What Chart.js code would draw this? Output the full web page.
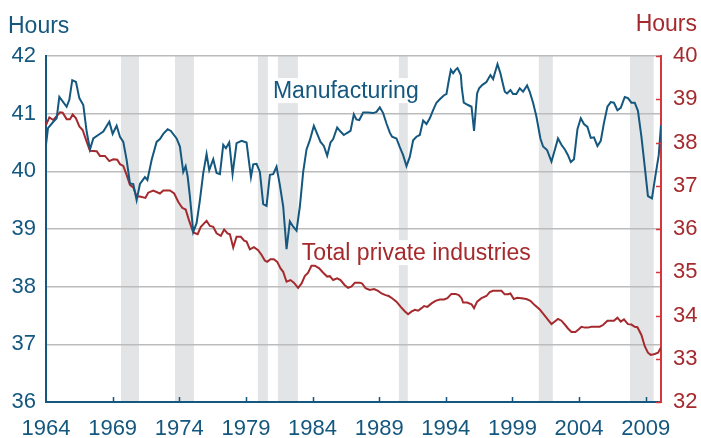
<!DOCTYPE html>
<html>
<head>
<meta charset="utf-8">
<style>
  html, body { margin: 0; padding: 0; background: #fff; }
  #wrap { width: 701px; height: 438px; position: relative; }
</style>
</head>
<body>
<div id="wrap"><canvas id="chart" width="701" height="438"></canvas></div>
<script src="https://cdn.jsdelivr.net/npm/chart.js@4.4.1/dist/chart.umd.min.js"></script>
<script>
/* ---------- data ---------- */
const mfgYears = [
  1964.00, 1964.15, 1964.55, 1964.80, 1965.00, 1965.55, 1965.75, 1965.97, 1966.25, 1966.50,
  1966.80, 1967.05, 1967.30, 1967.55, 1967.92, 1968.30, 1968.75, 1969.00, 1969.30, 1969.55,
  1969.80, 1970.05, 1970.30, 1970.55, 1970.80, 1971.05, 1971.42, 1971.61, 1971.93, 1972.30,
  1972.55, 1972.80, 1973.13, 1973.37, 1973.80, 1974.05, 1974.30, 1974.48, 1974.63, 1974.80,
  1975.05, 1975.30, 1975.55, 1975.80, 1976.05, 1976.25, 1976.55, 1976.80, 1977.05, 1977.30,
  1977.50, 1977.75, 1978.00, 1978.30, 1978.68, 1979.05, 1979.38, 1979.55, 1979.80, 1980.05,
  1980.30, 1980.55, 1980.80, 1981.05, 1981.30, 1981.55, 1981.80, 1982.05, 1982.30, 1982.55,
  1982.80, 1983.05, 1983.30, 1983.55, 1983.80, 1984.10, 1984.35, 1984.60, 1984.85, 1985.10,
  1985.35, 1985.55, 1985.85, 1986.10, 1986.35, 1986.55, 1986.85, 1987.10, 1987.29, 1987.51,
  1987.80, 1988.17, 1988.55, 1988.80, 1989.05, 1989.30, 1989.55, 1989.80, 1989.97, 1990.30,
  1990.55, 1990.80, 1991.05, 1991.30, 1991.55, 1991.80, 1992.05, 1992.30, 1992.55, 1992.80,
  1993.05, 1993.30, 1993.55, 1993.87, 1994.05, 1994.23, 1994.38, 1994.55, 1994.73, 1994.88,
  1995.13, 1995.20, 1995.35, 1995.67, 1995.93, 1996.12, 1996.35, 1996.50, 1996.75, 1997.05,
  1997.35, 1997.55, 1997.88, 1998.10, 1998.30, 1998.43, 1998.60, 1998.85, 1999.05, 1999.30,
  1999.55, 1999.80, 2000.10, 2000.30, 2000.55, 2000.80, 2001.10, 2001.30, 2001.60, 2001.93,
  2002.18, 2002.42, 2002.68, 2002.96, 2003.17, 2003.38, 2003.62, 2003.88, 2004.13, 2004.37,
  2004.63, 2004.88, 2005.12, 2005.38, 2005.63, 2005.87, 2006.13, 2006.38, 2006.62, 2006.88,
  2007.13, 2007.43, 2007.67, 2007.93, 2008.18, 2008.42, 2008.68, 2008.93, 2009.17, 2009.47,
  2009.73, 2009.98, 2010.15
];
const mfgHours = [
  40.46, 40.75, 40.86, 40.92, 41.29, 41.12, 41.24, 41.58, 41.55, 41.27,
  41.15, 40.69, 40.38, 40.57, 40.63, 40.69, 40.86, 40.65, 40.79, 40.60,
  40.51, 40.20, 39.79, 39.78, 39.50, 39.78, 39.90, 39.85, 40.20, 40.51,
  40.56, 40.65, 40.73, 40.70, 40.57, 40.43, 39.99, 40.09, 39.91, 39.56,
  38.95, 39.10, 39.50, 39.97, 40.30, 40.02, 40.21, 39.97, 39.95, 40.46,
  40.40, 40.50, 39.95, 40.49, 40.53, 40.50, 39.90, 40.12, 40.13, 39.99,
  39.43, 39.40, 39.94, 39.95, 40.08, 39.76, 39.39, 38.65, 39.13, 39.04,
  38.97, 39.39, 39.99, 40.38, 40.54, 40.79, 40.65, 40.51, 40.44, 40.27,
  40.50, 40.56, 40.76, 40.69, 40.63, 40.66, 40.70, 40.99, 40.90, 40.89,
  41.02, 41.02, 41.01, 41.03, 41.11, 41.01, 40.83, 40.67, 40.60, 40.57,
  40.42, 40.28, 40.09, 40.25, 40.54, 40.60, 40.63, 40.88, 40.82, 40.92,
  41.06, 41.19, 41.25, 41.32, 41.34, 41.58, 41.76, 41.70, 41.76, 41.79,
  41.67, 41.45, 41.19, 41.15, 41.12, 40.70, 41.35, 41.44, 41.50, 41.55,
  41.67, 41.60, 41.86, 41.70, 41.50, 41.38, 41.35, 41.41, 41.34, 41.34,
  41.44, 41.38, 41.49, 41.38, 41.19, 40.95, 40.57, 40.43, 40.37, 40.17,
  40.37, 40.57, 40.46, 40.37, 40.28, 40.16, 40.21, 40.73, 40.92, 40.82,
  40.77, 40.58, 40.59, 40.44, 40.53, 40.84, 41.12, 41.20, 41.19, 41.06,
  41.10, 41.29, 41.27, 41.19, 41.19, 41.05, 40.60, 40.08, 39.57, 39.53,
  39.92, 40.28, 40.80
];

const totYears = [
  1964.00, 1964.25, 1964.55, 1965.05, 1965.25, 1965.55, 1965.80, 1966.00, 1966.25, 1966.50,
  1966.75, 1967.05, 1967.30, 1967.80, 1968.05, 1968.42, 1968.75, 1969.05, 1969.35, 1969.55,
  1969.80, 1970.05, 1970.30, 1970.55, 1970.80, 1971.05, 1971.46, 1971.67, 1972.05, 1972.55,
  1972.80, 1973.30, 1973.62, 1973.92, 1974.22, 1974.48, 1974.72, 1975.05, 1975.38, 1975.62,
  1976.05, 1976.30, 1976.55, 1976.80, 1977.12, 1977.37, 1977.62, 1977.80, 1978.05, 1978.30,
  1978.62, 1978.87, 1979.05, 1979.30, 1979.60, 1979.92, 1980.18, 1980.42, 1980.60, 1980.85,
  1981.10, 1981.35, 1981.60, 1981.80, 1982.05, 1982.35, 1982.60, 1982.92, 1983.18, 1983.42,
  1983.67, 1983.92, 1984.18, 1984.50, 1984.80, 1985.10, 1985.30, 1985.55, 1985.85, 1986.10,
  1986.42, 1986.67, 1986.93, 1987.18, 1987.55, 1987.72, 1987.98, 1988.30, 1988.62, 1988.92,
  1989.18, 1989.48, 1989.72, 1989.97, 1990.30, 1990.62, 1990.92, 1991.17, 1991.42, 1991.68,
  1991.92, 1992.18, 1992.37, 1992.62, 1992.93, 1993.23, 1993.55, 1993.87, 1994.12, 1994.42,
  1994.73, 1994.98, 1995.18, 1995.30, 1995.60, 1995.93, 1996.12, 1996.35, 1996.68, 1997.05,
  1997.30, 1997.55, 1997.92, 1998.18, 1998.42, 1998.67, 1998.85, 1999.10, 1999.35, 1999.68,
  2000.05, 2000.35, 2000.67, 2001.05, 2001.50, 2001.93, 2002.18, 2002.42, 2002.68, 2002.96,
  2003.17, 2003.43, 2003.73, 2003.98, 2004.18, 2004.43, 2004.67, 2004.93, 2005.55, 2005.80,
  2006.13, 2006.62, 2006.88, 2007.13, 2007.37, 2007.67, 2007.93, 2008.18, 2008.38, 2008.68,
  2008.93, 2009.17, 2009.38, 2009.68, 2009.93, 2010.15
];
const totHours = [
  38.40, 38.58, 38.52, 38.70, 38.69, 38.54, 38.54, 38.65, 38.56, 38.37,
  38.29, 38.02, 37.81, 37.80, 37.69, 37.69, 37.57, 37.61, 37.60, 37.50,
  37.46, 37.25, 37.02, 36.96, 36.75, 36.75, 36.72, 36.84, 36.89, 36.82,
  36.89, 36.89, 36.82, 36.63, 36.49, 36.45, 36.21, 35.92, 35.88, 36.05,
  36.19, 36.07, 36.05, 35.90, 35.84, 35.99, 35.90, 35.88, 35.57, 35.82,
  35.82, 35.73, 35.71, 35.53, 35.58, 35.51, 35.40, 35.27, 35.24, 35.30,
  35.30, 35.24, 35.09, 35.01, 34.78, 34.82, 34.76, 34.64, 34.74, 34.91,
  34.99, 35.15, 35.15, 35.09, 34.99, 34.90, 34.91, 34.82, 34.86, 34.82,
  34.70, 34.64, 34.67, 34.76, 34.76, 34.74, 34.63, 34.59, 34.61, 34.57,
  34.51, 34.47, 34.45, 34.40, 34.32, 34.20, 34.10, 34.03, 34.09, 34.13,
  34.11, 34.17, 34.22, 34.20, 34.28, 34.34, 34.37, 34.37, 34.40, 34.50,
  34.50, 34.47, 34.40, 34.30, 34.30, 34.26, 34.17, 34.32, 34.40, 34.45,
  34.54, 34.57, 34.57, 34.57, 34.49, 34.49, 34.51, 34.38, 34.41, 34.40,
  34.38, 34.34, 34.24, 34.14, 33.97, 33.80, 33.86, 33.92, 33.88, 33.78,
  33.70, 33.62, 33.62, 33.68, 33.74, 33.72, 33.72, 33.74, 33.74, 33.78,
  33.88, 33.88, 33.95, 33.86, 33.91, 33.80, 33.79, 33.74, 33.73, 33.55,
  33.29, 33.14, 33.09, 33.11, 33.14, 33.26
];

const recessionStart = [1969.63, 1973.68, 1979.90, 1981.40, 1990.48, 2000.98, 2007.82];
const recessionEnd   = [1970.98, 1975.10, 1980.65, 1982.90, 1991.15, 2002.03, 2009.60];

const xTickYears = [1964, 1969, 1974, 1979, 1984, 1989, 1994, 1999, 2004, 2009];
const leftTicks  = [36, 37, 38, 39, 40, 41, 42];
const rightTicks = [32, 33, 34, 35, 36, 37, 38, 39, 40];

/* ---------- colours / fonts ---------- */
const BLUE = "#14577f";
const RED = "#a52a2d";
const RED_AXIS = "#d7373c";
const FONT = "'Liberation Sans', Arial, sans-serif";

/* ---------- extra drawing: recession bands, labels, inward ticks ---------- */
const decor = {
    id: "decor",
    beforeDraw(chart) {
        const { ctx, chartArea: a, scales } = chart;
        const x = scales.x, yl = scales.y;
        ctx.save();

        // recession shading
        ctx.fillStyle = "#e3e4e6";
        recessionStart.forEach((s, i) => {
            const x0 = x.getPixelForValue(s);
            const x1 = x.getPixelForValue(recessionEnd[i]);
            ctx.fillRect(x0, a.top, x1 - x0, a.bottom - a.top);
        });

        // series labels on white boxes
        ctx.font = "23px " + FONT;
        ctx.textBaseline = "alphabetic";
        ctx.textAlign = "left";
        const labels = [
            { text: "Manufacturing", year: 1981.03, val: 41.27, color: BLUE },
            { text: "Total private industries", year: 1983.2, val: 38.46, color: RED }
        ];
        labels.forEach(l => {
            const px = x.getPixelForValue(l.year);
            const py = yl.getPixelForValue(l.val);
            const w = ctx.measureText(l.text).width;
            ctx.fillStyle = "#fff";
            ctx.fillRect(px - 2, py - 20, w + 4, 25);
            ctx.fillStyle = l.color;
            ctx.fillText(l.text, px, py);
        });
        ctx.restore();
    },
    afterDraw(chart) {
        const { ctx, chartArea: a, scales } = chart;
        const x = scales.x, yr = scales.y2;
        ctx.save();

        // x ticks pointing up into the plot
        ctx.strokeStyle = BLUE;
        ctx.lineWidth = 1.5;
        xTickYears.slice(1).forEach(v => {
            const px = Math.round(x.getPixelForValue(v)) + 0.5;
            ctx.beginPath();
            ctx.moveTo(px, a.bottom);
            ctx.lineTo(px, a.bottom - 5);
            ctx.stroke();
        });

        // right axis ticks pointing left
        ctx.strokeStyle = RED_AXIS;
        rightTicks.forEach(v => {
            const py = Math.round(yr.getPixelForValue(v)) + 0.5;
            ctx.beginPath();
            ctx.moveTo(a.right, py);
            ctx.lineTo(a.right - 5, py);
            ctx.stroke();
        });

        // "Hours" headers
        ctx.font = "23px " + FONT;
        ctx.textBaseline = "alphabetic";
        ctx.fillStyle = BLUE;
        ctx.textAlign = "left";
        ctx.fillText("Hours", 8, 33);
        ctx.fillStyle = RED;
        ctx.textAlign = "right";
        ctx.fillText("Hours", 697, 31);
        ctx.restore();
    }
};

const xy = (xs, ys) => xs.map((v, i) => ({ x: v, y: ys[i] }));

new Chart(document.getElementById("chart"), {
    type: "line",
    data: {
        datasets: [
            {
                label: "Manufacturing",
                data: xy(mfgYears, mfgHours),
                yAxisID: "y",
                borderColor: BLUE,
                borderWidth: 2,
                pointRadius: 0,
                tension: 0
            },
            {
                label: "Total private industries",
                data: xy(totYears, totHours),
                yAxisID: "y2",
                borderColor: RED,
                borderWidth: 2,
                pointRadius: 0,
                tension: 0
            }
        ]
    },
    options: {
        responsive: false,
        animation: false,
        devicePixelRatio: 1,
        layout: { padding: { top: 56, left: 0, right: 0, bottom: 0 } },
        plugins: {
            legend: { display: false },
            tooltip: { enabled: false }
        },
        scales: {
            x: {
                type: "linear",
                min: 1964,
                max: 2010.15,
                afterBuildTicks: s => { s.ticks = xTickYears.map(v => ({ value: v })); },
                afterFit: s => { s.height = 36; },
                ticks: {
                    color: BLUE,
                    font: { size: 22, family: FONT },
                    padding: 14,
                    autoSkip: false,
                    maxRotation: 0,
                    callback: v => String(v)
                },
                grid: { display: false, drawTicks: false },
                border: { display: true, color: BLUE, width: 2 }
            },
            y: {
                position: "left",
                min: 36,
                max: 42,
                afterBuildTicks: s => { s.ticks = leftTicks.map(v => ({ value: v })); },
                afterFit: s => { s.width = 46; },
                ticks: {
                    color: BLUE,
                    font: { size: 22, family: FONT },
                    padding: 10
                },
                grid: { color: "#bcbcbc", lineWidth: 1.5, drawTicks: false },
                border: { display: true, color: BLUE, width: 2 }
            },
            y2: {
                position: "right",
                min: 32,
                max: 40,
                afterBuildTicks: s => { s.ticks = rightTicks.map(v => ({ value: v })); },
                afterFit: s => { s.width = 40; },
                ticks: {
                    color: RED,
                    font: { size: 22, family: FONT },
                    padding: 12
                },
                grid: { display: false, drawTicks: false },
                border: { display: true, color: RED_AXIS, width: 2 }
            }
        }
    },
    plugins: [decor]
});
</script>
</body>
</html>
